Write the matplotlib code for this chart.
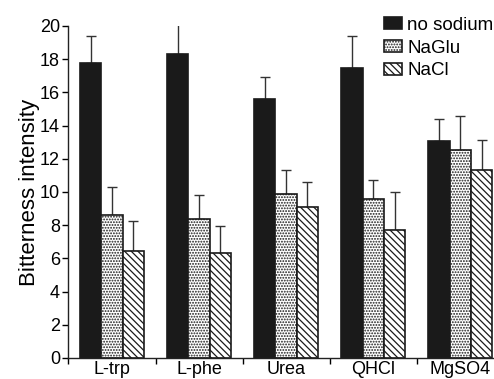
import numpy as np
import matplotlib
matplotlib.use('Agg')
import matplotlib.pyplot as plt

plt.rcParams['font.family'] = ['Liberation Sans', 'DejaVu Sans']
plt.rcParams['hatch.linewidth'] = 0.9

categories = ['L-trp', 'L-phe', 'Urea', 'QHCl', 'MgSO4']
series_names = ['no sodium', 'NaGlu', 'NaCl']

no_sodium = [17.8, 18.3, 15.6, 17.5, 13.05]
no_sodium_err = [1.6, 1.8, 1.3, 1.9, 1.35]
naglu = [8.6, 8.35, 9.9, 9.6, 12.55]
naglu_err = [1.7, 1.45, 1.4, 1.1, 2.0]
nacl = [6.45, 6.35, 9.1, 7.7, 11.35]
nacl_err = [1.8, 1.6, 1.5, 2.3, 1.8]

values = [no_sodium, naglu, nacl]
errors = [no_sodium_err, naglu_err, nacl_err]
fills = ['#1a1a1a', 'white', 'white']
hatches = [None, '......', '\\\\\\\\\\']

fig = plt.figure(figsize=(4.94, 3.79), dpi=100)
ax = fig.add_axes([68.4 / 494, 21 / 379, 435.5 / 494, 332 / 379])

x = np.arange(len(categories))
w = 0.245
for i in range(3):
    pos = x + (i - 1) * w
    ax.bar(pos, values[i], w, color=fills[i], edgecolor='#1a1a1a',
           hatch=hatches[i], linewidth=1.2, label=series_names[i], zorder=2)
    ax.errorbar(pos, values[i], yerr=[np.zeros(len(x)), errors[i]],
                fmt='none', ecolor='#333333', elinewidth=1.0,
                capsize=3.5, capthick=1.0, zorder=1)

ax.set_xlim(-0.5, 4.5)
ax.set_ylim(0, 20)
ax.set_yticks(range(0, 21, 2))
ax.set_xticks(x)
ax.set_xticklabels(categories)
ax.set_xticks(np.arange(-0.5, 5, 1), minor=True)
ax.tick_params(axis='x', which='major', length=0, pad=2.5, labelsize=13)
ax.tick_params(axis='x', which='minor', length=4, width=1, direction='out')
ax.tick_params(axis='y', length=4, width=1, pad=2, labelsize=13)
ax.set_ylabel('Bitterness intensity', fontsize=16, labelpad=0)

for s in ['top', 'right']:
    ax.spines[s].set_visible(False)
for s in ['left', 'bottom']:
    ax.spines[s].set_linewidth(1.0)
    ax.spines[s].set_color('#222222')

fig.legend(loc='upper left', bbox_to_anchor=(384 / 494, 1 - 17 / 379),
           frameon=False, fontsize=13.5, handlelength=0.95, handleheight=0.6,
           handletextpad=0.3, labelspacing=0.3, borderaxespad=0, borderpad=0)

fig.savefig('out.png', dpi=100)
